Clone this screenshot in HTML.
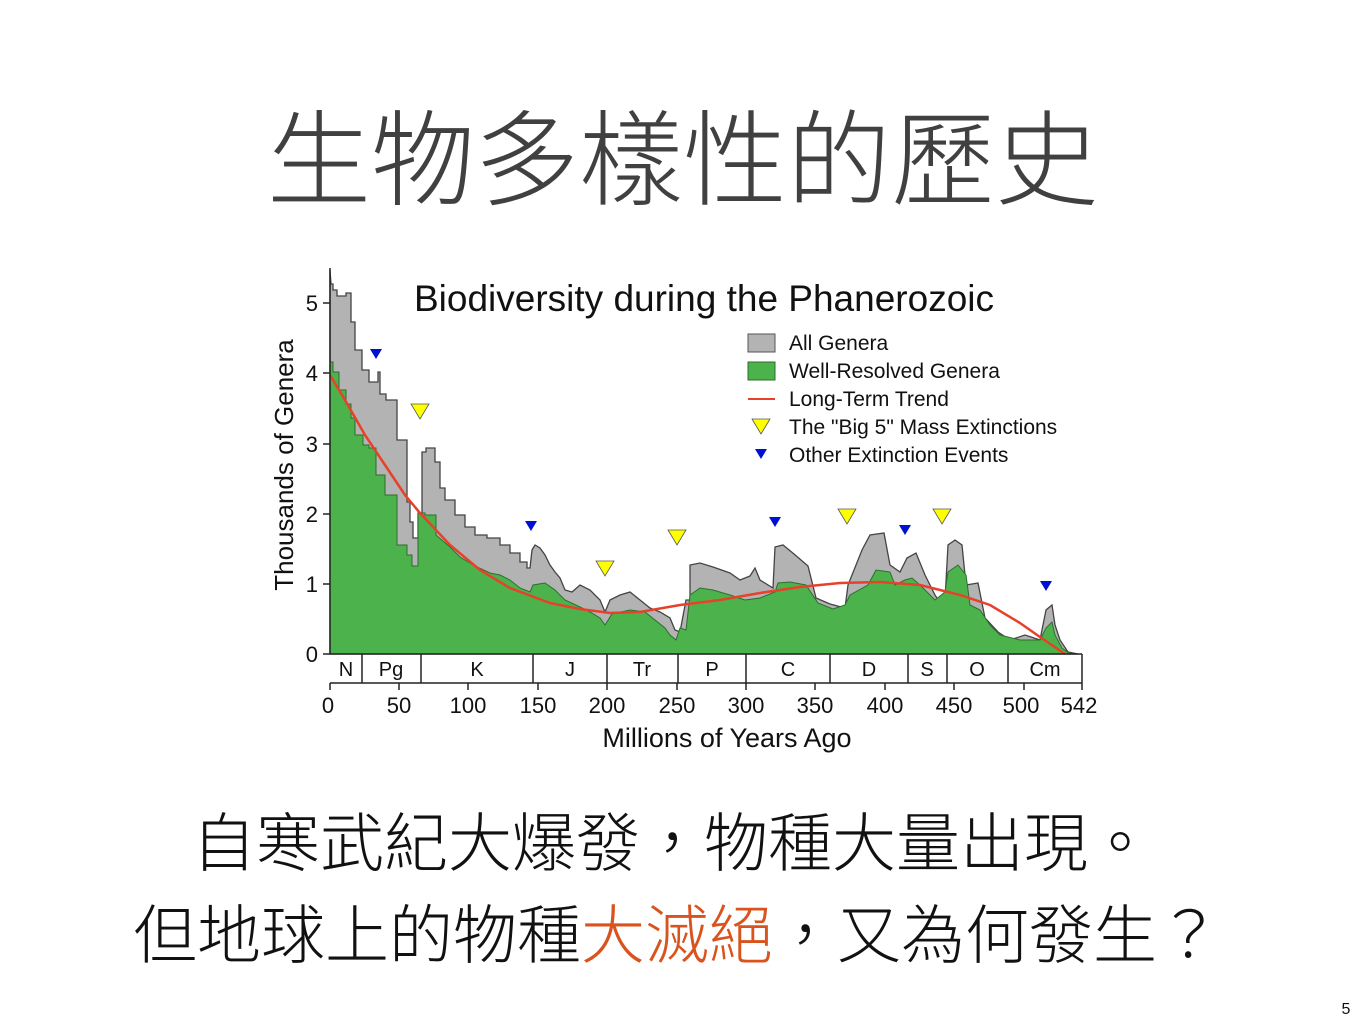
<!DOCTYPE html>
<html><head><meta charset="utf-8"><style>
body{margin:0;background:#fff;width:1365px;height:1024px;overflow:hidden}
svg text{font-family:"Liberation Sans","Noto Sans CJK TC",sans-serif}
</style></head><body>
<svg width="1365" height="1024" viewBox="0 0 1365 1024">
<text x="683" y="197" text-anchor="middle" font-size="104" fill="#404040" font-family="Noto Sans CJK TC" font-weight="300">生物多樣性的歷史</text>

<polygon fill="#b3b3b3" stroke="#444" stroke-width="1.3" points="330,654 330,270 331,284 333,284 333,290 337,290 337,296 346,296 346,293 351,293 351,322 355,322 355,350 362,350 362,370 369,370 369,382 378,382 378,372 380,372 380,394 386,394 386,400 397,400 397,440 407,440 407,502 410,502 410,522 413,522 413,538 418,538 418,513 422,513 422,452 426,452 426,448 435,448 435,462 440,462 440,488 445,488 445,500 455,500 455,515 465,515 465,527 475,527 475,535 487,535 487,538 500,538 500,545 510,545 510,553 520,553 520,562 527,562 527,568 530,568 532,550 535,545 540,548 545,555 550,565 555,572 560,578 565,590 572,592 580,585 590,590 600,600 605,612 610,600 620,595 630,592 640,600 650,608 660,612 670,618 675,630 680,632 686,600 690,600 690,565 700,563 713,567 730,573 740,580 750,576 755,568 760,580 773,588 775,547 783,545 794,554 808,566 816,598 830,604 845,608 848,585 862,550 870,535 884,533 890,565 900,572 907,558 916,553 925,575 935,595 940,603 945,600 948,545 955,540 962,545 966,585 978,583 985,618 998,632 1010,640 1025,635 1040,640 1046,610 1052,605 1055,625 1060,640 1068,652 1078,654"/>
<polygon fill="#4cb34c" stroke="#2d6e2d" stroke-width="1" points="330,654 330,362 333,362 333,372 339,372 339,390 346,390 346,404 351,404 351,418 355,418 355,435 363,435 363,445 369,445 369,448 376,448 376,475 385,475 385,495 397,495 397,545 407,545 407,555 412,555 412,566 418,566 418,513 425,513 425,515 436,515 436,535 450,547 460,557 475,566 490,573 500,575 510,580 520,588 530,592 533,585 545,583 555,590 565,600 580,607 590,612 600,618 605,625 612,614 630,610 645,612 655,620 665,628 670,635 676,640 680,628 686,630 690,595 700,588 713,590 730,595 745,600 760,598 775,592 778,583 790,582 806,585 818,603 833,609 845,605 850,595 868,585 876,570 890,572 895,585 905,580 912,578 920,585 935,600 945,592 948,572 958,565 966,575 970,605 980,610 990,625 1000,635 1020,640 1040,640 1046,628 1052,622 1055,635 1062,648 1070,654 1078,654"/>
<polyline fill="none" stroke="#e8402a" stroke-width="2.5" points="330,375 345,400 365,435 385,465 405,495 420,513 450,545 480,570 510,588 550,603 580,609 610,613 640,612 680,605 720,600 760,593 800,587 840,583 880,582 920,585 960,595 990,605 1020,623 1040,637 1065,654"/>

<g stroke="#222" stroke-width="1.5" fill="none">
<line x1="330" y1="268" x2="330" y2="654"/>
<line x1="330" y1="654" x2="1082" y2="654"/>
<line x1="330" y1="683" x2="1082" y2="683"/>
<line x1="1082" y1="654" x2="1082" y2="683"/>
<line x1="362" y1="654" x2="362" y2="683"/><line x1="421" y1="654" x2="421" y2="683"/>
<line x1="533" y1="654" x2="533" y2="683"/><line x1="607" y1="654" x2="607" y2="683"/>
<line x1="678" y1="654" x2="678" y2="683"/><line x1="746" y1="654" x2="746" y2="683"/>
<line x1="830" y1="654" x2="830" y2="683"/><line x1="908" y1="654" x2="908" y2="683"/>
<line x1="947" y1="654" x2="947" y2="683"/><line x1="1008" y1="654" x2="1008" y2="683"/>
<g>
<line x1="330" y1="683" x2="330" y2="690"/><line x1="399" y1="683" x2="399" y2="690"/><line x1="468" y1="683" x2="468" y2="690"/><line x1="538" y1="683" x2="538" y2="690"/><line x1="607" y1="683" x2="607" y2="690"/><line x1="677" y1="683" x2="677" y2="690"/><line x1="746" y1="683" x2="746" y2="690"/><line x1="815" y1="683" x2="815" y2="690"/><line x1="885" y1="683" x2="885" y2="690"/><line x1="954" y1="683" x2="954" y2="690"/><line x1="1024" y1="683" x2="1024" y2="690"/><line x1="1082" y1="683" x2="1082" y2="690"/>
</g>
<line x1="323" y1="654" x2="330" y2="654"/><line x1="323" y1="584" x2="330" y2="584"/><line x1="323" y1="514" x2="330" y2="514"/><line x1="323" y1="444" x2="330" y2="444"/><line x1="323" y1="373" x2="330" y2="373"/><line x1="323" y1="303" x2="330" y2="303"/>
</g>
<g font-size="20" fill="#111" text-anchor="middle">
<text x="346" y="676">N</text><text x="391" y="676">Pg</text><text x="477" y="676">K</text><text x="570" y="676">J</text><text x="642" y="676">Tr</text><text x="712" y="676">P</text><text x="788" y="676">C</text><text x="869" y="676">D</text><text x="927" y="676">S</text><text x="977" y="676">O</text><text x="1045" y="676">Cm</text>
</g>
<g font-size="22" fill="#111" text-anchor="middle">
<text x="328" y="713">0</text><text x="399" y="713">50</text><text x="468" y="713">100</text><text x="538" y="713">150</text><text x="607" y="713">200</text><text x="677" y="713">250</text><text x="746" y="713">300</text><text x="815" y="713">350</text><text x="885" y="713">400</text><text x="954" y="713">450</text><text x="1021" y="713">500</text><text x="1079" y="713">542</text>
<text x="727" y="747" font-size="27">Millions of Years Ago</text>
</g>
<g font-size="22" fill="#111" text-anchor="end">
<text x="318" y="662">0</text><text x="318" y="592">1</text><text x="318" y="522">2</text><text x="318" y="452">3</text><text x="318" y="381">4</text><text x="318" y="311">5</text>
</g>
<text transform="translate(293,465) rotate(-90)" font-size="26" text-anchor="middle" fill="#111">Thousands of Genera</text>
<text x="704" y="311" font-size="37" text-anchor="middle" fill="#111">Biodiversity during the Phanerozoic</text>

<g stroke="#555" stroke-width="0.8">
<polygon fill="#ffff00" points="411,404 429,404 420,419"/>
<polygon fill="#ffff00" points="596,561 614,561 605,576"/>
<polygon fill="#ffff00" points="668,530 686,530 677,545"/>
<polygon fill="#ffff00" points="838,509 856,509 847,524"/>
<polygon fill="#ffff00" points="933,509 951,509 942,524"/>
<polygon fill="#ffff00" points="752,419 770,419 761,434"/>
</g>
<g fill="#0010d0">
<polygon points="370,349 382,349 376,359"/>
<polygon points="525,521 537,521 531,531"/>
<polygon points="769,517 781,517 775,527"/>
<polygon points="899,525 911,525 905,535"/>
<polygon points="1040,581 1052,581 1046,591"/>
<polygon points="755,449 767,449 761,459"/>
</g>
<rect x="748" y="334" width="27" height="18" fill="#b3b3b3" stroke="#555"/>
<rect x="748" y="362" width="27" height="18" fill="#4cb34c" stroke="#2d6e2d"/>
<line x1="748" y1="399" x2="775" y2="399" stroke="#e8402a" stroke-width="2"/>
<g font-size="21" fill="#111">
<text x="789" y="350">All Genera</text>
<text x="789" y="378">Well-Resolved Genera</text>
<text x="789" y="406">Long-Term Trend</text>
<text x="789" y="434">The "Big 5" Mass Extinctions</text>
<text x="789" y="462">Other Extinction Events</text>
</g>

<text x="672" y="866" text-anchor="middle" font-size="64" fill="#111" font-family="Noto Sans CJK TC" font-weight="300">自寒武紀大爆發，物種大量出現。</text>
<text x="677" y="958" text-anchor="middle" font-size="64" fill="#111" font-family="Noto Sans CJK TC" font-weight="300">但地球上的物種<tspan fill="#d9531e">大滅絕</tspan>，又為何發生？</text>
<text x="1346" y="1014" text-anchor="middle" font-size="16" fill="#111">5</text>
</svg>
</body></html>
